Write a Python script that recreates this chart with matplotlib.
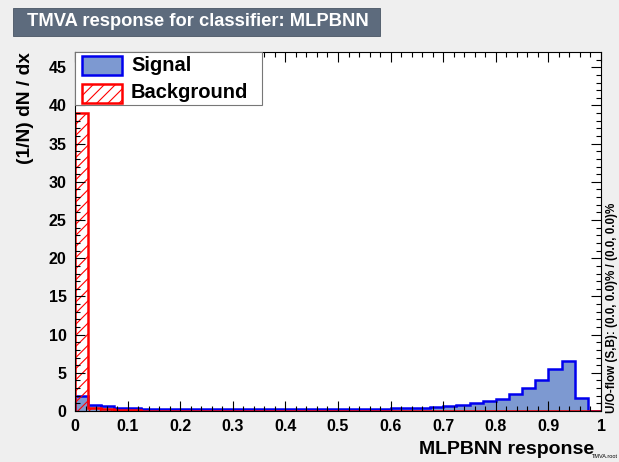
import matplotlib
matplotlib.use('Agg')
import matplotlib.pyplot as plt
import matplotlib.patches as mpatches
import numpy as np

# ===============================================
# data
# ===============================================
n_bins = 40
x_lo, x_hi = 0.0, 1.0

# normalised signal response, one value per bin
signal = [1.9, 0.8, 0.6, 0.45, 0.4, 0.32, 0.3, 0.3, 0.3, 0.3,
          0.3, 0.3, 0.3, 0.3, 0.3, 0.3, 0.3, 0.3, 0.3, 0.3,
          0.3, 0.3, 0.3, 0.32, 0.38, 0.4, 0.45, 0.52, 0.61, 0.78,
          1.0, 1.31, 1.61, 2.22, 2.97, 4.06, 5.54, 6.58, 1.74, 0.0]

# normalised background response, one value per bin
background = [39.0, 0.45, 0.2, 0.12, 0.08, 0.05, 0.04, 0.04, 0.03, 0.03,
              0.03, 0.03, 0.03, 0.03, 0.03, 0.03, 0.03, 0.03, 0.03, 0.03,
              0.03, 0.03, 0.03, 0.03, 0.03, 0.03, 0.03, 0.03, 0.03, 0.03,
              0.03, 0.03, 0.03, 0.03, 0.03, 0.03, 0.03, 0.02, 0.02, 0.0]

title = 'TMVA response for classifier: MLPBNN'
xlabel = 'MLPBNN response'
ylabel = '(1/N) dN / dx'
overflow_text = 'U/O-flow (S,B): (0.0, 0.0)% / (0.0, 0.0)%'
labels = ['Signal', 'Background']

# ===============================================
# style
# ===============================================
plt.rcParams['font.family'] = ['Liberation Sans', 'DejaVu Sans']
plt.rcParams['font.weight'] = 'bold'
plt.rcParams['hatch.linewidth'] = 0.8

W, H = 619, 462
bg = '#efefef'
sig_fill = '#7d99d1'
sig_line = '#0000ee'
bkg_line = '#ff0000'


def fx(px):
    return px / W


def fy(py):
    return 1 - py / H


fig = plt.figure(figsize=(W / 100, H / 100), dpi=100, facecolor=bg)

# axes frame in pixels: left 75, right 601, top 52, bottom 411
ax = fig.add_axes([fx(75), fy(411), fx(601) - fx(75), fy(52) - fy(411)])
ax.set_facecolor('white')

edges = np.linspace(x_lo, x_hi, n_bins + 1)

ax.stairs(signal, edges, fill=True, facecolor=sig_fill, edgecolor='none', zorder=1)
ax.stairs(signal, edges, color=sig_line, linewidth=1.8, zorder=2)
ax.stairs(background, edges, fill=True, facecolor='none', edgecolor=bkg_line,
          hatch='///', linewidth=0, zorder=2.1)
ax.stairs(background, edges, color=bkg_line, linewidth=1.8, zorder=2.2)

ax.set_xlim(x_lo, x_hi)
ax.set_ylim(0, 47)
ax.set_xticks(np.arange(0, 1.01, 0.1))
ax.set_xticklabels(['0', '0.1', '0.2', '0.3', '0.4', '0.5', '0.6', '0.7', '0.8', '0.9', '1'])
ax.set_xticks(np.arange(0, 1.001, 0.02), minor=True)
ax.set_yticks(np.arange(0, 46, 5))
ax.set_yticks(np.arange(0, 47, 1), minor=True)
ax.tick_params(which='both', direction='in', top=True, right=True, width=0.8)
ax.tick_params(which='major', length=7.5, labelsize=11.5)
ax.tick_params(which='minor', length=3.8)
ax.tick_params(axis='x', which='major', pad=6)
ax.tick_params(axis='y', which='major', pad=6)
for t in ax.get_xticklabels() + ax.get_yticklabels():
    t.set_fontweight('bold')
for s in ax.spines.values():
    s.set_linewidth(0.8)
ax.set_axisbelow(False)

# title box
fig.patches.append(mpatches.Rectangle((fx(13), fy(36)), fx(380) - fx(13), fy(8) - fy(36),
                                      transform=fig.transFigure, facecolor='#5d6b7d',
                                      edgecolor='#4a5564', linewidth=0.6))
fig.text(fx(27), fy(22), title, color='white', fontsize=13.2, fontweight='bold',
         ha='left', va='center')

# axis titles
fig.text(fx(594), fy(450), xlabel, ha='right', va='center',
         fontsize=14, fontweight='bold')
fig.text(fx(25), fy(52), ylabel, rotation=90, ha='center', va='top',
         fontsize=13.8, fontweight='bold')
fig.text(fx(612), fy(413), overflow_text, rotation=90, ha='center', va='bottom',
         fontsize=8.4, fontweight='bold')
fig.text(fx(618), fy(457), 'TMVA.root', ha='right', va='center', fontsize=4,
         fontweight='normal')

# legend drawn as a box in figure pixels
fig.patches.append(mpatches.Rectangle((fx(75), fy(105)), fx(262) - fx(75), fy(52) - fy(105),
                                      transform=fig.transFigure, facecolor='white',
                                      edgecolor='#777777', linewidth=0.8, zorder=3))
fig.patches.append(mpatches.Rectangle((fx(82), fy(75)), fx(122) - fx(82), fy(56) - fy(75),
                                      transform=fig.transFigure, facecolor=sig_fill,
                                      edgecolor=sig_line, linewidth=1.8, zorder=4))
fig.patches.append(mpatches.Rectangle((fx(82), fy(103)), fx(122) - fx(82), fy(84) - fy(103),
                                      transform=fig.transFigure, facecolor='white',
                                      edgecolor=bkg_line, hatch='///', linewidth=1.8, zorder=4))
fig.text(fx(131), fy(65), labels[0], ha='left', va='center', fontsize=14.5,
         fontweight='bold', zorder=5)
fig.text(fx(131), fy(93), labels[1], ha='left', va='center', fontsize=14.5,
         fontweight='bold', zorder=5)

fig.savefig('out.png', dpi=100, facecolor=bg)
